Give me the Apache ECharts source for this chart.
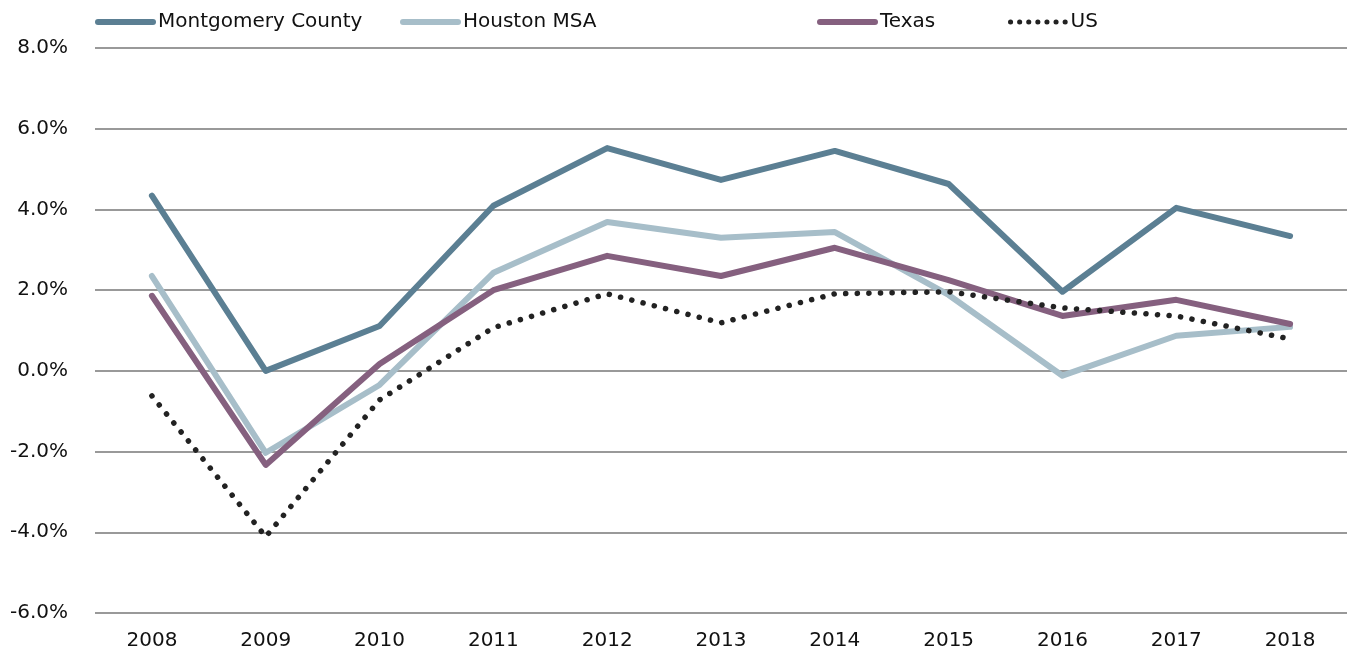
<!DOCTYPE html>
<html>
<head>
<meta charset="utf-8">
<script src="https://cdn.jsdelivr.net/npm/echarts@6/dist/echarts.min.js"></script>
<style>
  html, body { margin: 0; padding: 0; background: #fff; }
  #chart { width: 1351px; height: 663px; }
</style>
</head>
<body>
<div id="chart"></div>
<script>
  // years on the x axis
  const years = ['2008', '2009', '2010', '2011', '2012', '2013', '2014', '2015', '2016', '2017', '2018'];
  // annual growth, percent
  const montgomery = [4.34, 0.0, 1.11, 4.09, 5.52, 4.73, 5.45, 4.63, 1.96, 4.04, 3.34];
  const houston = [2.35, -2.03, -0.35, 2.43, 3.69, 3.30, 3.44, 1.88, -0.12, 0.87, 1.09];
  const texas = [1.86, -2.33, 0.17, 2.0, 2.85, 2.35, 3.05, 2.25, 1.36, 1.76, 1.16];
  const us = [-0.62, -4.11, -0.72, 1.07, 1.91, 1.19, 1.91, 1.96, 1.56, 1.36, 0.79];

  const font = '"DejaVu Sans", sans-serif';

  function legendAt(name, left, lineStyle) {
    return {
      data: [name],
      left: left,
      top: 12,
      padding: 0,
      itemWidth: 55,
      itemHeight: 14,
      itemStyle: { opacity: 0 },
      lineStyle: lineStyle,
      textStyle: { fontFamily: font, fontSize: 20, color: '#111' }
    };
  }

  const chart = echarts.init(document.getElementById('chart'));
  chart.setOption({
    animation: false,
    legend: [
      legendAt('Montgomery County', 95, { width: 6, cap: 'round' }),
      legendAt('Houston MSA', 400, { width: 6, cap: 'round' }),
      legendAt('Texas', 817, { width: 6, cap: 'round' }),
      legendAt('US', 1008, { width: 5, type: [0.1, 9], cap: 'round' })
    ],
    grid: { left: 95, right: 4, top: 48, bottom: 50, containLabel: false },
    xAxis: {
      type: 'category',
      data: years,
      boundaryGap: true,
      axisLine: { show: false },
      axisTick: { show: false },
      axisLabel: { fontFamily: font, fontSize: 20, color: '#111', margin: 18 }
    },
    yAxis: {
      type: 'value',
      min: -6,
      max: 8,
      interval: 2,
      axisLine: { show: false },
      axisTick: { show: false },
      axisLabel: {
        fontFamily: font, fontSize: 20, color: '#111', margin: 27,
        formatter: v => v.toFixed(1) + '%'
      },
      splitLine: { lineStyle: { color: '#999', width: 2 } }
    },
    series: [
      {
        name: 'Montgomery County', type: 'line', data: montgomery,
        symbol: 'none', lineStyle: { color: '#5B7F93', width: 6, cap: 'round', join: 'round' },
        itemStyle: { color: '#5B7F93' }
      },
      {
        name: 'Houston MSA', type: 'line', data: houston,
        symbol: 'none', lineStyle: { color: '#A7BEC9', width: 6, cap: 'round', join: 'round' },
        itemStyle: { color: '#A7BEC9' }
      },
      {
        name: 'Texas', type: 'line', data: texas,
        symbol: 'none', lineStyle: { color: '#85607F', width: 6, cap: 'round', join: 'round' },
        itemStyle: { color: '#85607F' }
      },
      {
        name: 'US', type: 'line', data: us,
        symbol: 'none', lineStyle: { color: '#222', width: 5.5, type: [0.1, 11.5], cap: 'round' },
        itemStyle: { color: '#222' }
      }
    ]
  });
</script>
</body>
</html>
